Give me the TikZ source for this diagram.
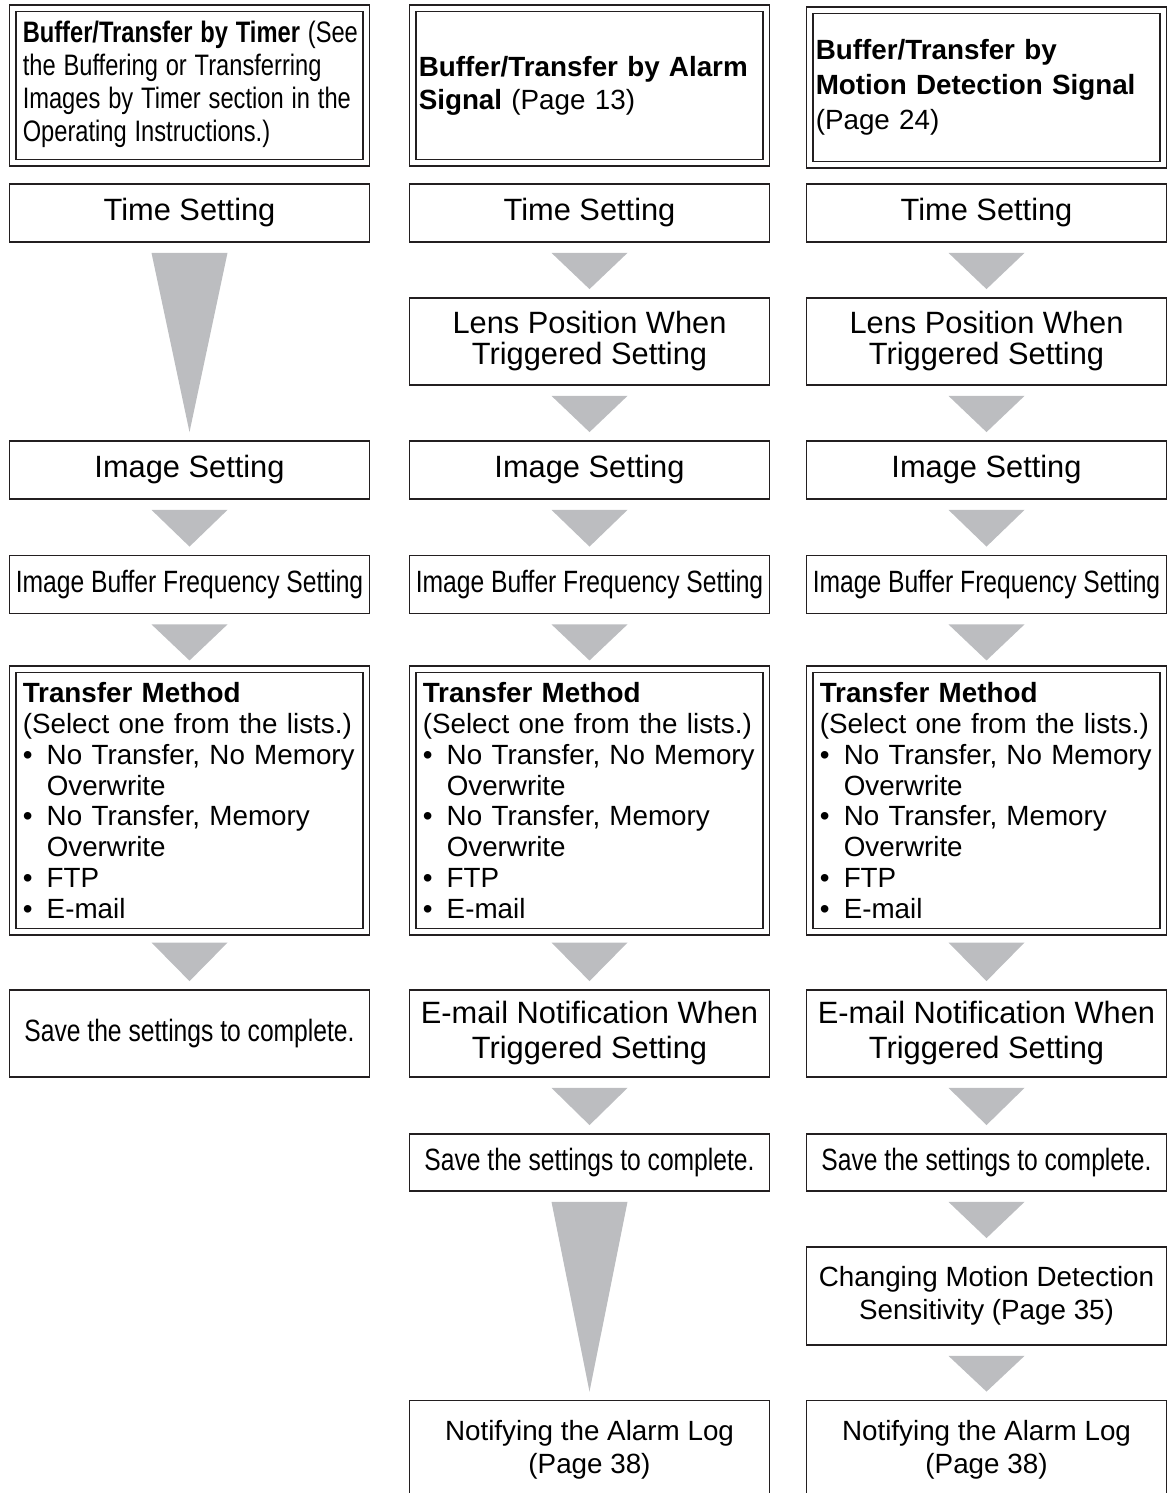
\documentclass[tikz,border=0pt]{standalone}
\usepackage{fontspec}
\setmainfont{Liberation Sans}
\newfontfamily\narrowfont[FakeStretch=0.8]{Liberation Sans}
\usetikzlibrary{calc}

\definecolor{boxline}{RGB}{35,31,32}
\definecolor{arrowgray}{RGB}{188,189,192}

\newcommand\listdot{\makebox[12pt][l]{\textbullet}}
\newcommand\transfertext{\textbf{Transfer Method}\\
  (Select one from the lists.)\\
  \listdot No Transfer, No Memory\\
  \hspace*{12pt}Overwrite\\
  \listdot No Transfer, Memory\\
  \hspace*{12pt}Overwrite\\
  \listdot FTP\\
  \listdot E-mail}

\tikzset{
  stepbox/.style={draw=boxline, line width=0.9pt, minimum width=180pt,
    inner sep=0pt, align=center, font=\fontsize{15.4}{15.5}\selectfont},
  smallstep/.style={stepbox, font=\fontsize{13.9}{16.5}\selectfont},
  narrowstep/.style={stepbox, font=\narrowfont\fontsize{15.4}{15.5}\selectfont},
  headbox/.style={draw=boxline, double, double distance=2.45pt, line width=0.8pt,
    minimum height=77.25pt, text width=170.75pt, inner xsep=3pt, inner ysep=0pt,
    align=left, font=\fontsize{13.9}{16.5}\selectfont},
  listbox/.style={headbox, minimum height=131.25pt, text width=166.75pt,
    inner xsep=5pt, font=\fontsize{13.9}{15.4}\selectfont}
}

\begin{document}
\begin{tikzpicture}[x=0.5pt,y=0.5pt]

  \clip (0,0) rectangle (1167,-1493);

  % headings
  \node[headbox, text width=166.75pt, inner xsep=5pt,
    font=\fontsize{14.8}{16.35}\selectfont] (head1) at (189.5,-85.5)
    {\scalebox{0.8}[1]{\begin{tabular}{@{}l@{}}
       \textbf{Buffer/Transfer by Timer} (See\\ the Buffering or Transferring\\
       Images by Timer section in the\\ Operating Instructions.)\end{tabular}}};
  \node[headbox] (head2) at (589.5,-85.5)
    {\textbf{Buffer/Transfer by Alarm}\\ \textbf{Signal} (Page 13)};
  \node[headbox, font=\fontsize{13.9}{17.5}\selectfont] (head3) at (986.5,-87.5)
    {\textbf{Buffer/Transfer by}\\ \textbf{Motion Detection Signal}\\ (Page 24)};

  % timer
  \node[stepbox, minimum height=29pt] (time1) at (189.5,-213) {Time Setting};
  \node[stepbox, minimum height=29pt] (img1) at (189.5,-470) {Image Setting};
  \node[narrowstep, minimum height=29pt] (buf1) at (189.5,-584.5) {Image Buffer Frequency Setting};
  \node[listbox] (list1) at (189.5,-800.5) {\transfertext};
  \node[narrowstep, minimum height=43.5pt] (save1) at (189.5,-1033.5) {Save the settings to complete.};

  % alarm
  \node[stepbox, minimum height=29pt] (time2) at (589.5,-213) {Time Setting};
  \node[stepbox, minimum height=43.5pt] (lens2) at (589.5,-341.5) {Lens Position When\\ Triggered Setting};
  \node[stepbox, minimum height=29pt] (img2) at (589.5,-470) {Image Setting};
  \node[narrowstep, minimum height=29pt] (buf2) at (589.5,-584.5) {Image Buffer Frequency Setting};
  \node[listbox] (list2) at (589.5,-800.5) {\transfertext};
  \node[stepbox, minimum height=43.5pt, font=\fontsize{15.4}{17.5}\selectfont] (mail2) at (589.5,-1033.5)
    {E-mail Notification When\\ Triggered Setting};
  \node[narrowstep, minimum height=28.5pt] (save2) at (589.5,-1162.5) {Save the settings to complete.};
  \node[smallstep, minimum height=49pt] (log2) at (589.5,-1449.5) {Notifying the Alarm Log\\ (Page 38)};

  % motion detection
  \node[stepbox, minimum height=29pt] (time3) at (986.5,-213) {Time Setting};
  \node[stepbox, minimum height=43.5pt] (lens3) at (986.5,-341.5) {Lens Position When\\ Triggered Setting};
  \node[stepbox, minimum height=29pt] (img3) at (986.5,-470) {Image Setting};
  \node[narrowstep, minimum height=29pt] (buf3) at (986.5,-584.5) {Image Buffer Frequency Setting};
  \node[listbox] (list3) at (986.5,-800.5) {\transfertext};
  \node[stepbox, minimum height=43.5pt, font=\fontsize{15.4}{17.5}\selectfont] (mail3) at (986.5,-1033.5)
    {E-mail Notification When\\ Triggered Setting};
  \node[narrowstep, minimum height=28.5pt] (save3) at (986.5,-1162.5) {Save the settings to complete.};
  \node[smallstep, minimum height=49pt] (sens3) at (986.5,-1296) {Changing Motion Detection\\ Sensitivity (Page 35)};
  \node[smallstep, minimum height=49pt] (log3) at (986.5,-1449.5) {Notifying the Alarm Log\\ (Page 38)};

  % arrows
  \begin{scope}[every edge/.style={fill=arrowgray,
      to path={($(\tikztostart.south)+(-38,-10)$) -- ($(\tikztostart.south)+(38,-10)$)
               -- ($(\tikztotarget.north)+(0,8)$) -- cycle}}]
    \path (time1) edge (img1);
    \path (img1)  edge (buf1);
    \path (buf1)  edge (list1);
    \path (list1) edge (save1);

    \path (time2) edge (lens2);
    \path (lens2) edge (img2);
    \path (img2)  edge (buf2);
    \path (buf2)  edge (list2);
    \path (list2) edge (mail2);
    \path (mail2) edge (save2);
    \path (save2) edge (log2);

    \path (time3) edge (lens3);
    \path (lens3) edge (img3);
    \path (img3)  edge (buf3);
    \path (buf3)  edge (list3);
    \path (list3) edge (mail3);
    \path (mail3) edge (save3);
    \path (save3) edge (sens3);
    \path (sens3) edge (log3);
  \end{scope}

\end{tikzpicture}
\end{document}
